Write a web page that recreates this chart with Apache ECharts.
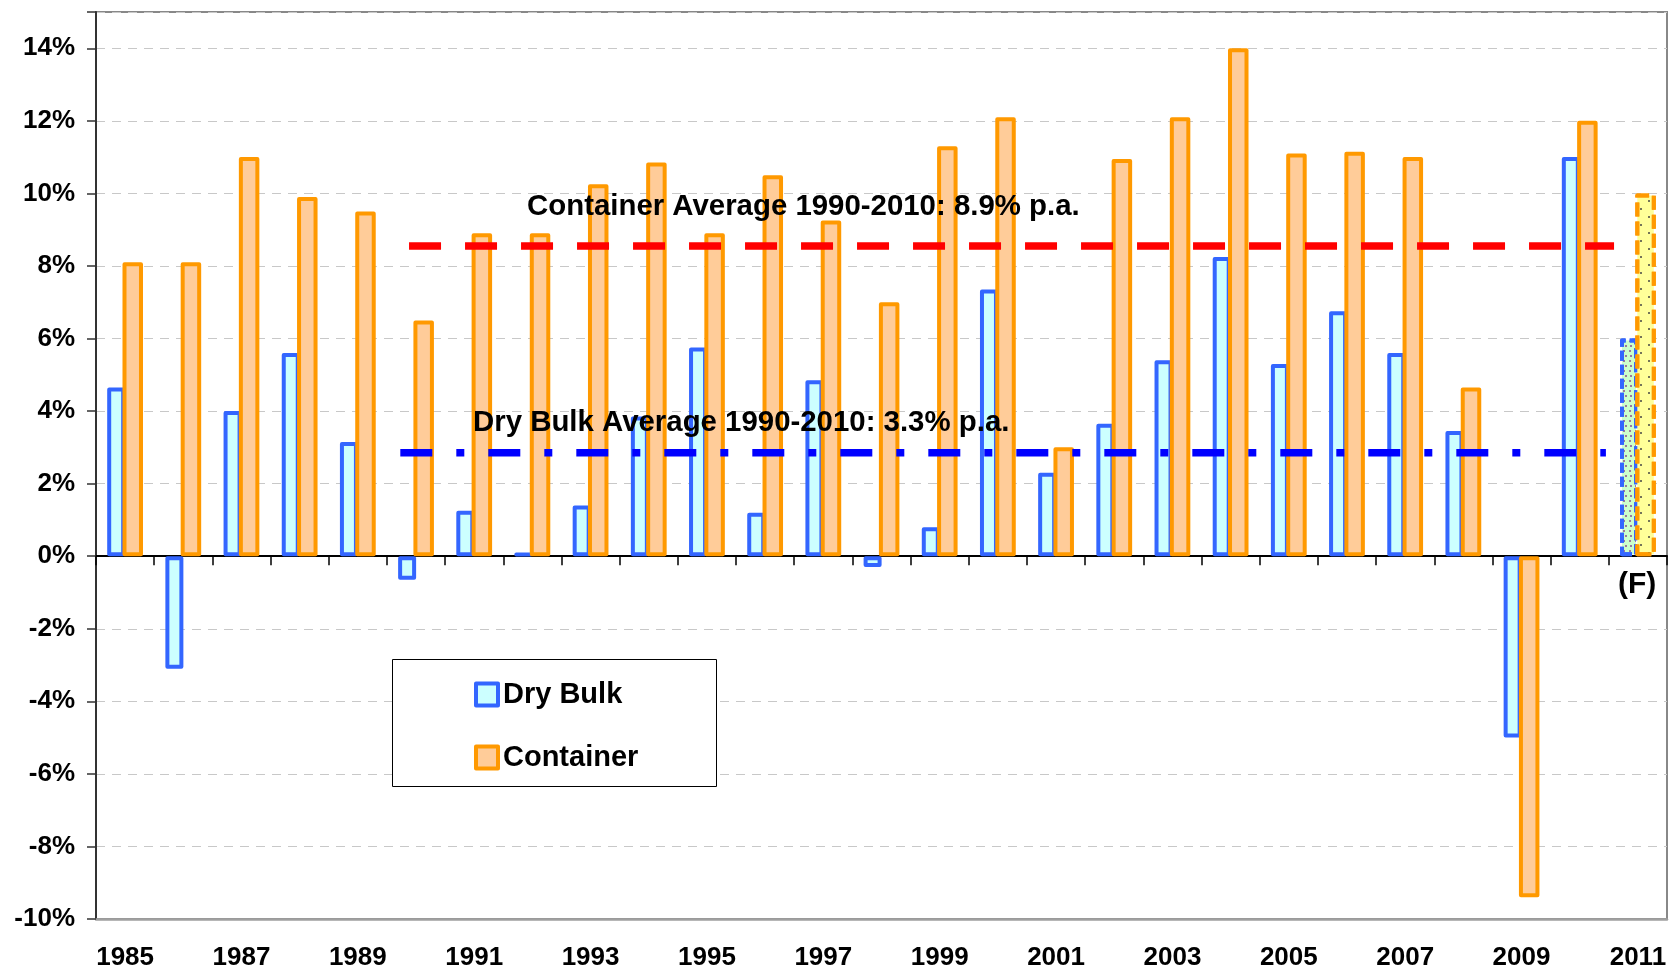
<!DOCTYPE html>
<html>
<head>
<meta charset="utf-8">
<title>Dry Bulk vs Container trade growth</title>
<script src="https://cdn.jsdelivr.net/npm/echarts@6/dist/echarts.min.js"></script>
<style>
  html, body { margin: 0; padding: 0; background: #fff; }
  #chart { width: 1669px; height: 971px; }
</style>
</head>
<body>
<div id="chart"></div>
<script>
// 年份（分类轴）
const years = ['1985', '1986', '1987', '1988', '1989', '1990', '1991', '1992', '1993',
  '1994', '1995', '1996', '1997', '1998', '1999', '2000', '2001', '2002', '2003',
  '2004', '2005', '2006', '2007', '2008', '2009', '2010', '2011'];
// 干散货增长率 (%)
const dryBulk = [4.65, -3.1, 4.0, 5.6, 3.15, -0.65, 1.25, 0.1, 1.4,
  3.85, 5.75, 1.2, 4.85, -0.3, 0.8, 7.35, 2.3, 3.65, 5.4,
  8.25, 5.3, 6.75, 5.6, 3.45, -5.0, 11.0, 6.0];
// 集装箱增长率 (%)
const container = [8.1, 8.1, 11.0, 9.9, 9.5, 6.5, 8.9, 8.9, 10.25,
  10.85, 8.9, 10.5, 9.25, 7.0, 11.3, 12.1, 3.0, 10.95, 12.1,
  14.0, 11.1, 11.15, 11.0, 4.65, -9.4, 12.0, 10.0];
// 2011 为预测值
const forecastIndex = 26;
// 平均线：数值 和 起止位置（以分类宽度为单位）
const containerAvg = 8.55;
const containerAvgSpan = [5.38, 26.09];
const dryBulkAvg = 2.85;
const dryBulkAvgSpan = [5.23, 25.95];
// y 轴范围
const yMin = -10, yMax = 15, yStep = 2;

const FONT = '"Liberation Sans", Arial, sans-serif';

const chart = echarts.init(document.getElementById('chart'));

// 预测柱子的样式（点状填充 + 虚线边框）
const dryForecastStyle = {
  color: '#ccffcc',
  borderColor: '#3366ff',
  borderType: [10, 4],
  decal: {
    symbol: 'circle', symbolSize: 1, color: '#8e4a8e',
    dashArrayX: [[2, 3], [0, 2.5, 2, 0.5]], dashArrayY: [2, 2.5]
  }
};
const containerForecastStyle = {
  color: '#ffff99',
  borderColor: '#ff9900',
  borderType: [14, 5],
  decal: {
    symbol: 'circle', symbolSize: 1, color: '#444',
    dashArrayX: [[2, 14], [0, 8, 2, 6]], dashArrayY: [2, 6]
  }
};

const withForecast = (vals, style) =>
  vals.map((v, i) => i === forecastIndex ? {value: v, itemStyle: style} : v);

const dryStyle = {color: '#ccffff', borderColor: '#3366ff', borderWidth: 4, borderJoin: 'round'};
const containerStyle = {color: '#ffcc99', borderColor: '#ff9900', borderWidth: 4, borderJoin: 'round'};

const option = {
  animation: false,
  backgroundColor: '#fff',
  textStyle: {fontFamily: FONT},
  grid: {
    left: 96, top: 12, right: 2, bottom: 52,
    show: true, borderColor: '#888', borderWidth: 2,
    containLabel: false, outerBoundsMode: 'none'
  },
  legend: {
    data: [
      {name: 'Dry Bulk', itemStyle: dryStyle},
      {name: 'Container', itemStyle: containerStyle}
    ],
    orient: 'vertical',
    left: 469, top: 675,
    icon: 'rect',
    itemWidth: 22, itemHeight: 22,
    itemGap: 34,
    selectedMode: false,
    z: 8,
    textStyle: {fontSize: 29, fontWeight: 'bold', color: '#000', fontFamily: FONT, lineHeight: 29, padding: [0, 0, 0, 0]}
  },
  xAxis: [
    {
      // 底部年份标签
      type: 'category', data: years, position: 'bottom',
      axisLine: {show: true, onZero: false, lineStyle: {color: '#a0a0a0', width: 2.5}},
      axisTick: {show: false},
      axisLabel: {interval: 1, margin: 26, fontSize: 26, fontWeight: 'bold', color: '#000', fontFamily: FONT},
      splitLine: {show: false}
    },
    {
      // 零线与刻度
      type: 'category', data: years, position: 'bottom',
      axisLine: {show: true, onZero: true, lineStyle: {color: '#000', width: 2}},
      axisTick: {show: true, interval: 0, length: 9, lineStyle: {color: '#000', width: 1.5}},
      axisLabel: {show: false},
      splitLine: {show: false}
    },
    {
      // 平均线用的隐藏数值轴
      type: 'value', min: 0, max: years.length, show: false
    }
  ],
  yAxis: {
    type: 'value', min: yMin, max: yMax, interval: yStep,
    axisLine: {show: true, onZero: false, lineStyle: {color: '#333', width: 2}},
    axisTick: {show: true, length: 9, lineStyle: {color: '#333', width: 1.5}},
    axisLabel: {
      margin: 21, fontSize: 26, fontWeight: 'bold', color: '#000', fontFamily: FONT,
      formatter: v => v > 14 ? '' : v + '%'
    },
    splitLine: {show: true, lineStyle: {color: '#c8c8c8', width: 1, type: [9, 7]}}
  },
  series: [
    {
      name: 'Dry Bulk', type: 'bar', xAxisIndex: 0,
      barWidth: 18, barGap: '-15%', z: 2,
      itemStyle: dryStyle,
      emphasis: {disabled: true},
      data: withForecast(dryBulk, dryForecastStyle)
    },
    {
      name: 'Container', type: 'bar', xAxisIndex: 0,
      barWidth: 20.5, barGap: '-15%', z: 2,
      itemStyle: containerStyle,
      emphasis: {disabled: true},
      data: withForecast(container, containerForecastStyle)
    },
    {
      name: 'Container Average', type: 'line', xAxisIndex: 2, z: 5,
      symbol: 'none', silent: true,
      lineStyle: {color: '#ff0000', width: 7.5, type: [32, 24], cap: 'butt'},
      data: containerAvgSpan.map(x => [x, containerAvg])
    },
    {
      name: 'Dry Bulk Average', type: 'line', xAxisIndex: 2, z: 5,
      symbol: 'none', silent: true,
      lineStyle: {color: '#0000ff', width: 7.5, type: [32, 24, 8, 24], cap: 'butt'},
      data: dryBulkAvgSpan.map(x => [x, dryBulkAvg])
    }
  ],
  graphic: [
    {
      type: 'rect', z: 7,
      shape: {x: 392.5, y: 659.5, width: 324, height: 127},
      style: {fill: '#fff', stroke: '#000', lineWidth: 1}
    },
    {
      type: 'text', z: 10, left: 527, top: 192,
      style: {text: 'Container Average 1990-2010: 8.9% p.a.', font: 'bold 29.4px ' + FONT, fill: '#000'}
    },
    {
      type: 'text', z: 10, left: 473, top: 408,
      style: {text: 'Dry Bulk Average 1990-2010: 3.3% p.a.', font: 'bold 29.4px ' + FONT, fill: '#000'}
    },
    {
      type: 'text', z: 10, left: 1618, top: 570,
      style: {text: '(F)', font: 'bold 30px ' + FONT, fill: '#000'}
    }
  ]
};

chart.setOption(option);
</script>
</body>
</html>
